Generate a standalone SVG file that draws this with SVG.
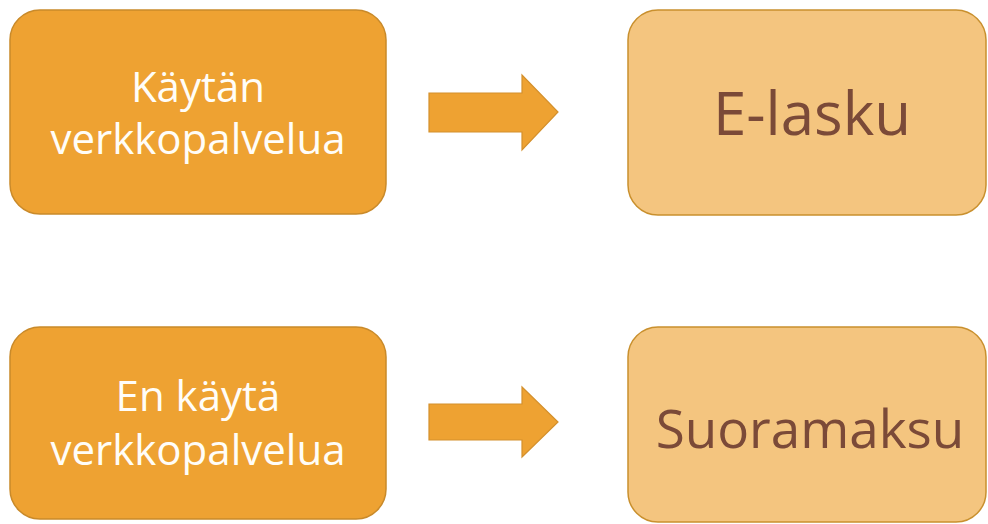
<svg xmlns="http://www.w3.org/2000/svg" width="988" height="524" viewBox="0 0 988 524">
  <style>
    .src rect { fill: #EEA232; stroke: #C98A2A; stroke-width: 1.5; }
    .dst rect { fill: #F4C57F; stroke: #C9902E; stroke-width: 1.5; }
    .src text { fill: #FFFDF8; font-family: "Open Sans", "DejaVu Sans", sans-serif; font-size: 42px; text-anchor: middle; }
    .dst text { fill: #7B4A38; font-family: "Open Sans", "DejaVu Sans", sans-serif; text-anchor: middle; }
    .arrow { fill: #EEA232; stroke: #D4902C; stroke-width: 1.2; stroke-linejoin: miter; }
  </style>
  <rect width="988" height="524" fill="#FFFFFF"/>
  <g id="node-kaytan">
    <g class="src">
      <rect x="10" y="10" width="376" height="204" rx="30" ry="30"/>
      <text x="198" y="102">Käytän</text>
      <text x="198" y="154">verkkopalvelua</text>
    </g>
  </g>
  <g id="node-elasku">
    <g class="dst">
      <rect x="628" y="10" width="358" height="205" rx="30" ry="30"/>
      <text x="812" y="135" font-size="60">E-lasku</text>
    </g>
  </g>
  <g id="node-en-kayta">
    <g class="src">
      <rect x="10" y="327" width="376" height="192" rx="30" ry="30"/>
      <text x="198" y="411">En käytä</text>
      <text x="198" y="465">verkkopalvelua</text>
    </g>
  </g>
  <g id="node-suoramaksu">
    <g class="dst">
      <rect x="628" y="327" width="358" height="195" rx="30" ry="30"/>
      <text x="810" y="448" font-size="53">Suoramaksu</text>
    </g>
  </g>
  <g id="connectors">
    <polygon class="arrow" points="429,93 522,93 522,75 558,112 522,150 522,132 429,132"/>
    <polygon class="arrow" points="429,404 522,404 522,387 558,422 522,457 522,440 429,440"/>
  </g>
</svg>
